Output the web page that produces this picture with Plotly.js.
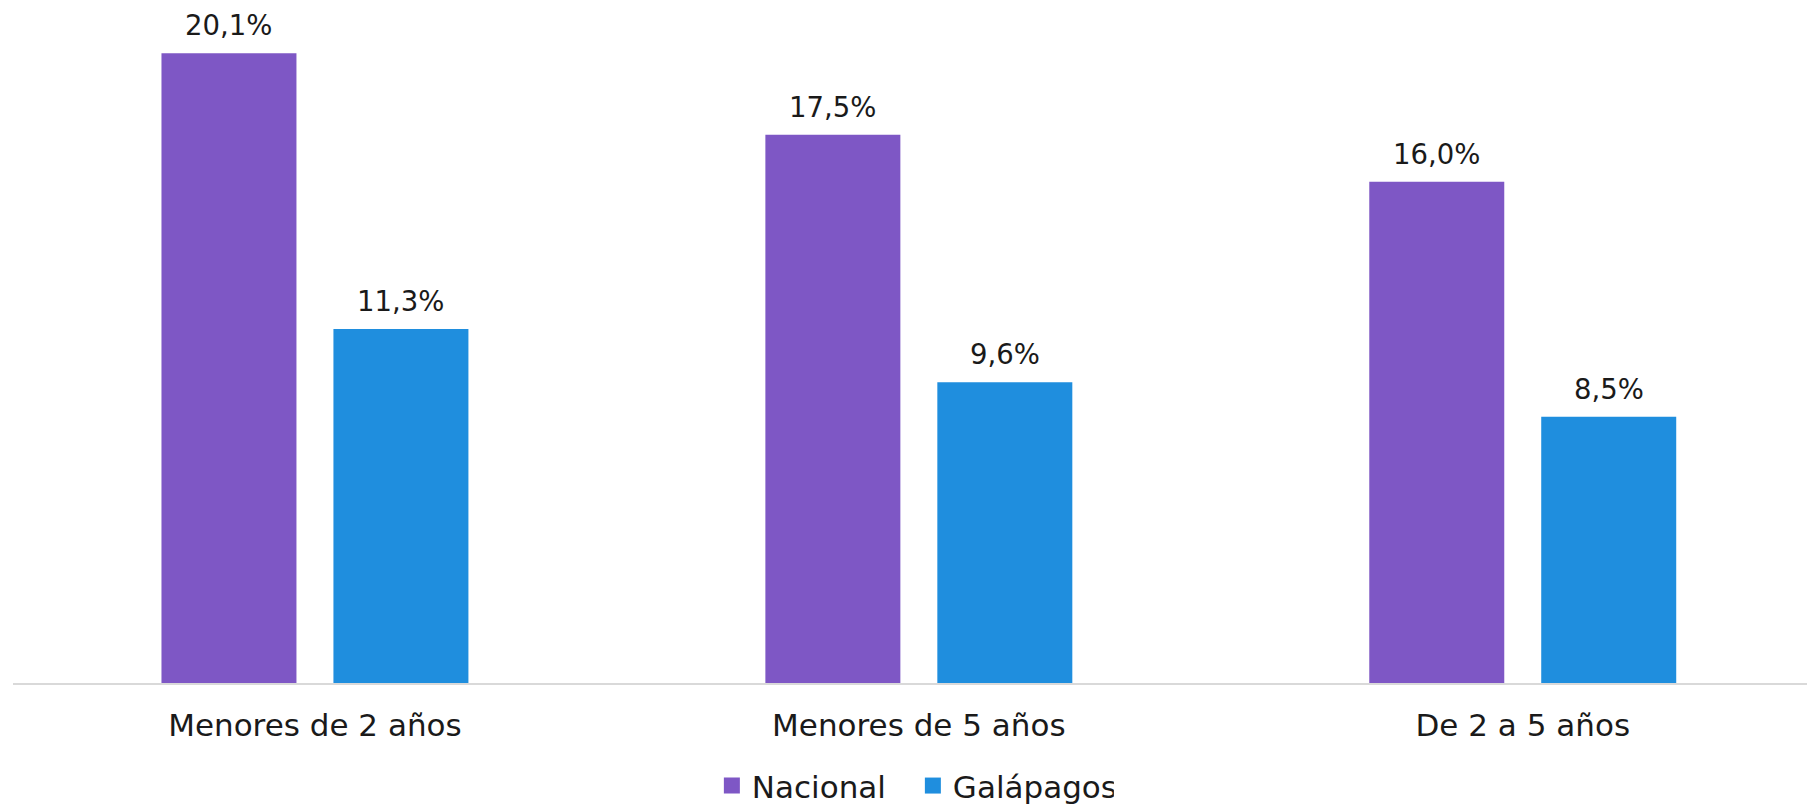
<!DOCTYPE html>
<html>
<head>
<meta charset="utf-8">
<script src="https://cdn.plot.ly/plotly-3.0.1.min.js"></script>
<style>
  html, body { margin: 0; padding: 0; background: #ffffff; }
  #chart { width: 1807px; height: 804px; }
</style>
</head>
<body>
<div id="chart"></div>
<script>
const categories = ["Menores de 2 años", "Menores de 5 años", "De 2 a 5 años"];
const seriesNames = ["Nacional", "Galápagos"];
const nacional = [20.1, 17.5, 16.0];
const galapagos = [11.3, 9.6, 8.5];
const colors = ["#7E57C5", "#1F8EDE"];

function fmt(v) { return v.toFixed(1).replace(".", ",") + "%"; }

const FONT = "DejaVu Sans, Century Gothic, sans-serif";
const BARGAP = 0.4305;
const BARGROUPGAP = 0.215;
const slot = (1 - BARGAP) / 2;

const allSeries = [nacional, galapagos];

const traces = allSeries.map((vals, i) => ({
  type: "bar",
  name: seriesNames[i],
  x: categories,
  y: vals,
  marker: { color: colors[i] },
  showlegend: false,
  hoverinfo: "skip"
}));

// legend-only entries with larger square symbols
seriesNames.forEach((name, i) => {
  traces.push({
    type: "scatter",
    mode: "markers",
    name: name,
    x: [null],
    y: [null],
    marker: { symbol: "square", size: 17, color: colors[i] },
    showlegend: true,
    hoverinfo: "skip"
  });
});

const annotations = [];
allSeries.forEach((vals, i) => {
  vals.forEach((v, j) => {
    annotations.push({
      x: j + (i - 0.5) * slot,
      y: v,
      xref: "x",
      yref: "y",
      text: fmt(v),
      showarrow: false,
      xanchor: "center",
      yanchor: "bottom",
      yshift: 10,
      font: { family: FONT, size: 27.5, color: "#1a1a1a" }
    });
  });
});

const layout = {
  width: 1807,
  height: 804,
  margin: { l: 12.5, r: 0, t: 25, b: 121, autoexpand: false },
  paper_bgcolor: "#ffffff",
  plot_bgcolor: "#ffffff",
  font: { family: FONT, size: 31, color: "#1a1a1a" },
  barmode: "group",
  bargap: BARGAP,
  bargroupgap: BARGROUPGAP,
  showlegend: true,
  annotations: annotations,
  legend: {
    orientation: "h",
    x: 0.5016,
    xanchor: "center",
    yref: "container",
    y: 0.0225,
    yanchor: "middle",
    font: { family: FONT, size: 31, color: "#1a1a1a" },
    itemwidth: 30,
    itemsizing: "trace",
    entrywidth: 156,
    traceorder: "normal"
  },
  xaxis: {
    type: "category",
    range: [-0.5, 2.4707],
    showline: true,
    linecolor: "#d9d9d9",
    linewidth: 2,
    showgrid: false,
    zeroline: false,
    ticks: "",
    ticklabelstandoff: 14,
    tickfont: { family: FONT, size: 31, color: "#1a1a1a" },
    fixedrange: true
  },
  yaxis: {
    range: [0, 21],
    showticklabels: false,
    showgrid: false,
    zeroline: false,
    showline: false,
    ticks: "",
    fixedrange: true
  }
};

Plotly.newPlot("chart", traces, layout, { displayModeBar: false, staticPlot: true });
</script>
</body>
</html>
